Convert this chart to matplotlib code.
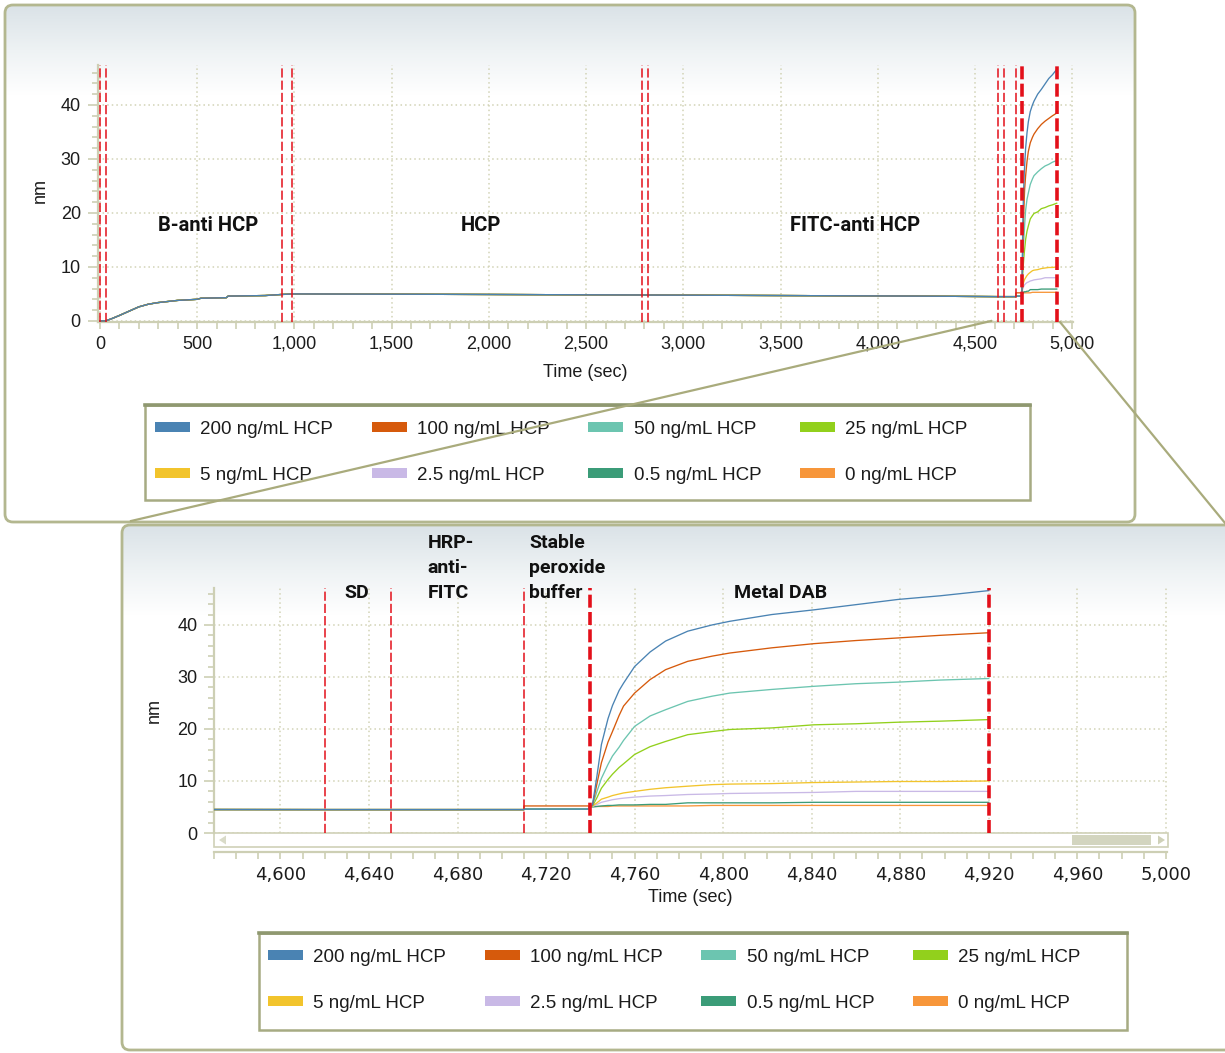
import numpy as np
import matplotlib.pyplot as plt
from matplotlib.patches import FancyBboxPatch, Rectangle, Polygon, Patch
from matplotlib.colors import LinearSegmentedColormap
from matplotlib.ticker import MultipleLocator, FuncFormatter

# ---- data ----
labels = ["200 ng/mL HCP", "100 ng/mL HCP", "50 ng/mL HCP", "25 ng/mL HCP",
          "5 ng/mL HCP", "2.5 ng/mL HCP", "0.5 ng/mL HCP", "0 ng/mL HCP"]
colors = ["#4a83b3", "#d65a0c", "#6cc5b0", "#92d01c",
          "#f2c42c", "#c9b9e6", "#3b9c78", "#f7963a"]

# shared loading trace up to the peroxide step (sec, nm)
t_base = [0, 30, 60, 100, 150, 200, 250, 300, 400, 500, 520, 650, 660, 850,
          935, 990, 2000, 2790, 3500, 4200, 4620, 4650, 4710]
nm_base = [0, 0, 0.4, 1.0, 1.8, 2.6, 3.1, 3.4, 3.8, 4.0, 4.2, 4.3, 4.6, 4.7,
           4.9, 5.0, 4.9, 4.8, 4.7, 4.6, 4.5, 4.5, 4.5]
# level during the stable peroxide buffer step (4710-4740 s)
nm_peroxide = [4.6, 5.2, 4.6, 4.6, 4.6, 4.6, 4.6, 4.6]

# Metal DAB step
t_dab = [4740, 4741, 4743, 4745, 4748, 4750, 4753, 4755, 4760, 4767, 4774,
         4784, 4795, 4803, 4822, 4841, 4860, 4879, 4898, 4920]
dab_200 = [5.0, 5.5, 11, 17, 22, 24.5, 27.4, 28.8, 32, 34.8, 36.9, 38.8, 40.0,
           40.7, 42.0, 42.9, 43.9, 44.9, 45.6, 46.6]
dab_100 = [5.0, 5.4, 9.5, 13.5, 17.5, 19.5, 22.6, 24.4, 26.9, 29.5, 31.4, 33.0,
           34.0, 34.6, 35.6, 36.4, 37.0, 37.5, 38.0, 38.5]
dab_50 = [5.0, 5.3, 8.0, 10.5, 13.2, 14.8, 16.5, 17.8, 20.5, 22.5, 23.7, 25.3,
          26.3, 26.9, 27.6, 28.2, 28.7, 29.0, 29.4, 29.7]
dab_25 = [5.0, 5.2, 6.8, 8.6, 10.3, 11.3, 12.6, 13.3, 15.1, 16.6, 17.6, 18.9,
          19.5, 19.9, 20.2, 20.8, 21.0, 21.3, 21.5, 21.8]
dab_5 = [5.0, 5.2, 5.8, 6.5, 6.9, 7.2, 7.5, 7.7, 8.0, 8.4, 8.7, 9.0, 9.3, 9.4,
         9.5, 9.7, 9.8, 9.9, 9.9, 10.0]
dab_2_5 = [5.0, 5.1, 5.5, 5.9, 6.2, 6.4, 6.6, 6.7, 6.9, 7.1, 7.2, 7.4, 7.5, 7.6,
           7.7, 7.8, 8.0, 8.0, 8.0, 8.0]
dab_0_5 = [5.0, 5.0, 5.1, 5.2, 5.3, 5.3, 5.4, 5.4, 5.4, 5.5, 5.5, 5.8, 5.8, 5.8,
           5.8, 5.9, 5.9, 5.9, 5.9, 5.9]
dab_0 = [5.1, 5.1, 5.1, 5.1, 5.1, 5.2, 5.2, 5.2, 5.2, 5.2, 5.2, 5.2, 5.3, 5.3,
         5.3, 5.3, 5.3, 5.3, 5.3, 5.3]
dab_all = [dab_200, dab_100, dab_50, dab_25, dab_5, dab_2_5, dab_0_5, dab_0]

# step boundaries (sec); thick ones mark the Metal DAB step
step_lines = [0, 30, 935, 990, 2790, 2820, 4620, 4650, 4710]
dab_lines = [4740, 4920]

top_steps = ["B-anti HCP", "HCP", "FITC-anti HCP"]
zoom_steps = ["SD", "HRP-\nanti-\nFITC", "Stable\nperoxide\nbuffer", "Metal DAB"]

# ---- styling ----
W, H = 1225, 1053
axis_col = "#cdcfb4"
grid_col = "#d2d3b6"
frame_col = "#b3b78f"
red = "#e3101a"
tick_font = ["Liberation Sans", "DejaVu Sans"]
bold_font = ["Roboto", "DejaVu Sans"]

fig = plt.figure(figsize=(W / 100, H / 100), dpi=100)


def frac(x0, y0, x1, y1):
    # pixel box (top-left origin) -> figure fraction rect
    return [x0 / W, 1 - y1 / H, (x1 - x0) / W, (y1 - y0) / H]


# background layer in pixel coordinates
bg = fig.add_axes([0, 0, 1, 1], zorder=0)
bg.set_xlim(0, W)
bg.set_ylim(H, 0)
bg.axis("off")

fade = LinearSegmentedColormap.from_list("fade", ["#dae2e7", "#eef2f4", "#ffffff"])
grad = np.linspace(0, 1, 256).reshape(-1, 1)


def panel(x0, y0, x1, y1, gh):
    box = FancyBboxPatch((x0, y0), x1 - x0, y1 - y0, boxstyle="round,pad=0,rounding_size=8",
                         facecolor="white", edgecolor="none", zorder=1)
    bg.add_patch(box)
    im = bg.imshow(grad, cmap=fade, extent=(x0, x1, y0 + gh, y0), aspect="auto", zorder=2)
    im.set_clip_path(box)
    bg.add_patch(FancyBboxPatch((x0, y0), x1 - x0, y1 - y0, boxstyle="round,pad=0,rounding_size=8",
                                facecolor="none", edgecolor=frame_col, linewidth=2, zorder=3))


panel(5, 5, 1135, 522, 90)
panel(122, 525, 1260, 1050, 90)

# legend frames
for (x0, y0, x1, y1) in [(145, 405, 1030, 500), (259, 933, 1127, 1030)]:
    bg.add_patch(Rectangle((x0, y0), x1 - x0, y1 - y0, facecolor="white",
                           edgecolor="#a6ab83", linewidth=1.8, zorder=4))
    bg.plot([x0, x1], [y0, y0], color="#8f9870", linewidth=2.6, zorder=5)

# scroll bar under the zoomed plot
bg.add_patch(Rectangle((214, 833), 954, 14, facecolor="white", edgecolor="#cfd1b8",
                       linewidth=1.2, zorder=4))
bg.add_patch(Rectangle((1072, 835), 79, 10, facecolor="#d3d5bf", edgecolor="none", zorder=5))
bg.add_patch(Polygon([[226, 835.5], [226, 844.5], [219, 840]], facecolor="#d9dbc8",
                     edgecolor="none", zorder=5))
bg.add_patch(Polygon([[1158, 835.5], [1158, 844.5], [1165, 840]], facecolor="#cfd1b8",
                     edgecolor="none", zorder=5))


def style(ax, xmajor, xminor):
    ax.set_facecolor("none")
    ax.spines["top"].set_visible(False)
    ax.spines["right"].set_visible(False)
    for s in ["left", "bottom"]:
        ax.spines[s].set_color(axis_col)
        ax.spines[s].set_linewidth(1.6)
    ax.xaxis.set_major_locator(MultipleLocator(xmajor))
    ax.xaxis.set_minor_locator(MultipleLocator(xminor))
    ax.yaxis.set_major_locator(MultipleLocator(10))
    ax.yaxis.set_minor_locator(MultipleLocator(2))
    ax.xaxis.set_major_formatter(FuncFormatter(lambda v, p: f"{v:,.0f}"))
    ax.grid(True, which="major", color=grid_col, linestyle=(0, (1, 2)), linewidth=1.1)
    ax.set_axisbelow(True)
    ax.tick_params(which="both", color=axis_col, labelcolor="#1c1c1c", labelsize=13, width=1.2)
    ax.tick_params(axis="x", which="both", length=5, pad=5)
    ax.tick_params(axis="y", which="major", length=7, pad=5)
    ax.tick_params(axis="y", which="minor", length=4)
    for lab in ax.get_xticklabels() + ax.get_yticklabels():
        lab.set_family(tick_font)
    ax.set_xlabel("Time (sec)", fontsize=13, family=tick_font, color="#1c1c1c")
    ax.set_ylabel("nm", fontsize=13, family=tick_font, color="#1c1c1c")


def draw_series(ax):
    for i in reversed(range(len(labels))):
        t = t_base + [4710, 4739] + t_dab
        v = nm_base + [nm_peroxide[i], nm_peroxide[i]] + dab_all[i]
        ax.plot(t, v, color=colors[i], linewidth=0.95, zorder=3)
    for x in step_lines:
        ax.axvline(x, color=red, linewidth=1.1, dashes=(6, 2), zorder=4)
    for x in dab_lines:
        ax.axvline(x, color=red, linewidth=2.6, dashes=(3.6, 1.2), zorder=4)


# ---- full run ----
ax1 = fig.add_axes(frac(97.5, 65, 1072.5, 322), zorder=2)
draw_series(ax1)
ax1.set_xlim(-12, 5001)
ax1.set_ylim(-0.2, 47.4)
style(ax1, 500, 100)
ax1.xaxis.set_label_coords(0.5, -0.165)
ax1.yaxis.set_label_coords(-0.05, 0.51)
for name, x in zip(top_steps, [556, 1960, 3883]):
    ax1.text(x, 17.6, name, ha="center", va="center", fontsize=14.5,
             fontweight="bold", family=bold_font, color="#111111")

# ---- zoom on the last steps ----
ax2 = fig.add_axes(frac(214, 588, 1167, 833), zorder=2)
draw_series(ax2)
ax2.set_xlim(4570, 5000.5)
ax2.set_ylim(0, 47.1)
style(ax2, 40, 10)
ax2.spines["bottom"].set_position(("outward", 14))
ax2.spines["left"].set_bounds(0, 47.1)
ax2.xaxis.set_label_coords(0.5, -0.23)
ax2.yaxis.set_label_coords(-0.054, 0.5)
for name, x, y, ha in zip(zoom_steps, [4634.5, 4666.5, 4712.5, 4826],
                          [46.1, 50.9, 50.9, 46.1], ["center", "left", "left", "center"]):
    ax2.text(x, y, name, ha=ha, va="center", fontsize=14, fontweight="bold",
             family=bold_font, color="#111111", linespacing=1.5, clip_on=False)

# ---- legends (row-wise order, matplotlib fills columns first) ----
order = [0, 4, 1, 5, 2, 6, 3, 7]
handles = [Patch(facecolor=colors[i], edgecolor="none") for i in order]
names = [labels[i] for i in order]
for ax, (lx, ly) in [(ax1, (155, 421)), (ax2, (268, 949))]:
    leg = ax.legend(handles, names, ncol=4, loc="upper left",
                    bbox_to_anchor=(lx / W, 1 - ly / H), bbox_transform=fig.transFigure,
                    frameon=False, borderpad=0, borderaxespad=0,
                    handlelength=1.87, handleheight=0.45, handletextpad=0.55,
                    columnspacing=2.05, labelspacing=1.52,
                    prop={"family": tick_font, "size": 13.5})
    for txt in leg.get_texts():
        txt.set_color("#1c1c1c")

# ---- zoom connector lines ----
ov = fig.add_axes([0, 0, 1, 1], zorder=6)
ov.set_xlim(0, W)
ov.set_ylim(H, 0)
ov.axis("off")
ov.plot([991, 131], [321, 521], color="#a9ab7c", linewidth=1.6)
ov.plot([1060, 1225], [322, 523], color="#a9ab7c", linewidth=1.6)

fig.savefig("out.png", dpi=100)
